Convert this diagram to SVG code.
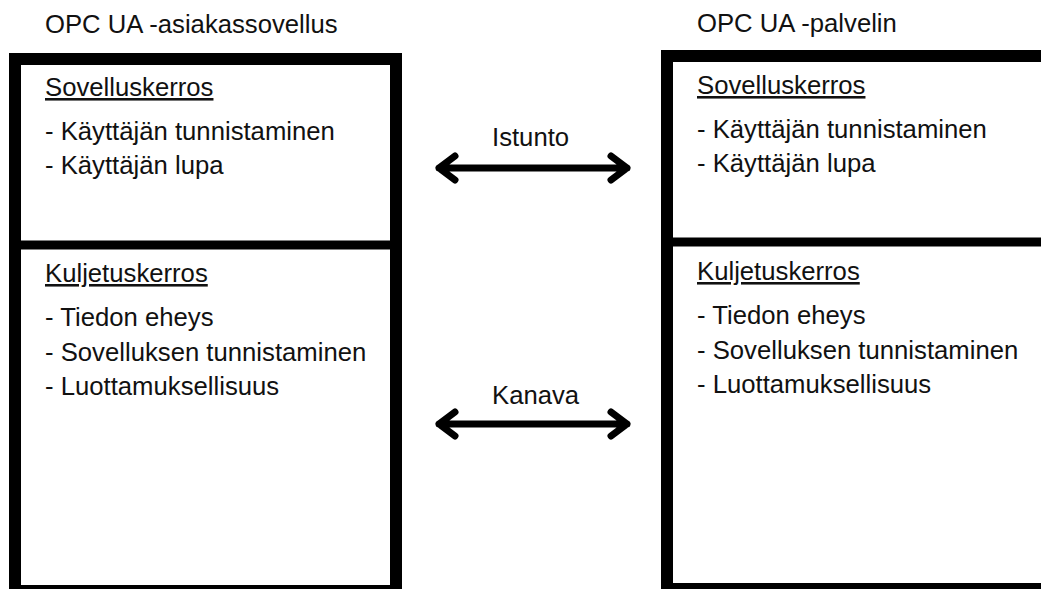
<svg xmlns="http://www.w3.org/2000/svg" width="1041" height="589" viewBox="0 0 1041 589">
  <style>
    text { font-family: "Liberation Sans", Arial, sans-serif; font-size: 25.7px; fill: #111; }
    .hdr { text-decoration: underline; }
    .box { fill: #fff; stroke: #000; stroke-width: 12; }
    .div { stroke: #000; stroke-width: 9; }
    .arrow { fill: none; stroke: #000; stroke-width: 7; stroke-linecap: round; stroke-linejoin: round; }
  </style>
  <rect width="1041" height="589" fill="#fff"/>
  <g id="client">
    <text x="45" y="33">OPC UA -asiakassovellus</text>
    <rect class="box" x="15" y="59" width="381" height="532"/>
    <line class="div" x1="15" y1="245" x2="396" y2="245"/>
    <text class="hdr" x="45" y="96">Sovelluskerros</text>
    <text x="45" y="140">- Käyttäjän tunnistaminen</text>
    <text x="45" y="174">- Käyttäjän lupa</text>
    <text class="hdr" x="45" y="282">Kuljetuskerros</text>
    <text x="45" y="326">- Tiedon eheys</text>
    <text x="45" y="361">- Sovelluksen tunnistaminen</text>
    <text x="45" y="395">- Luottamuksellisuus</text>
  </g>
  <g id="server">
    <text x="697" y="32">OPC UA -palvelin</text>
    <rect class="box" x="667" y="56" width="400" height="533"/>
    <line class="div" x1="667" y1="242" x2="1067" y2="242" stroke-width="10"/>
    <text class="hdr" x="697" y="94">Sovelluskerros</text>
    <text x="697" y="138">- Käyttäjän tunnistaminen</text>
    <text x="697" y="172">- Käyttäjän lupa</text>
    <text class="hdr" x="697" y="280">Kuljetuskerros</text>
    <text x="697" y="324">- Tiedon eheys</text>
    <text x="697" y="359">- Sovelluksen tunnistaminen</text>
    <text x="697" y="393">- Luottamuksellisuus</text>
  </g>
  <g id="connectors">
    <g id="session">
      <path class="arrow" d="M439 168 H627 M455 156 L439 168 L455 180 M611 156 L627 168 L611 180"/>
      <text x="492" y="146">Istunto</text>
    </g>
    <g id="channel">
      <path class="arrow" d="M439 424 H627 M455 412 L439 424 L455 436 M611 412 L627 424 L611 436"/>
      <text x="492" y="404">Kanava</text>
    </g>
  </g>
</svg>
